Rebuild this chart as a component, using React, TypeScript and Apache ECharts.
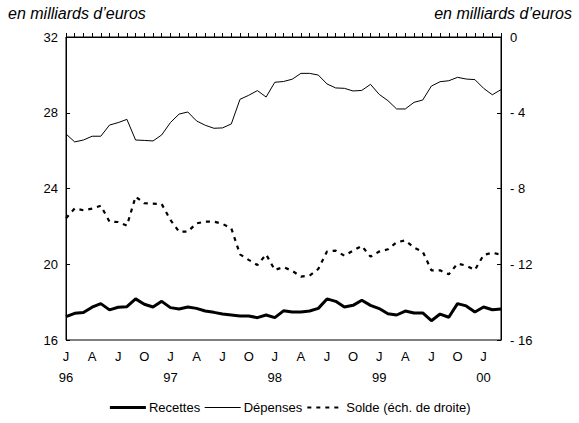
import React, { useEffect, useRef } from "react";
import * as echarts from "echarts";

const categories = [
  "1996-01","1996-02","1996-03","1996-04","1996-05","1996-06","1996-07","1996-08","1996-09","1996-10","1996-11","1996-12",
  "1997-01","1997-02","1997-03","1997-04","1997-05","1997-06","1997-07","1997-08","1997-09","1997-10","1997-11","1997-12",
  "1998-01","1998-02","1998-03","1998-04","1998-05","1998-06","1998-07","1998-08","1998-09","1998-10","1998-11","1998-12",
  "1999-01","1999-02","1999-03","1999-04","1999-05","1999-06","1999-07","1999-08","1999-09","1999-10","1999-11","1999-12",
  "2000-01","2000-02","2000-03",
];

const recettes = [
  17.23, 17.41, 17.45, 17.73, 17.92, 17.59, 17.73, 17.76, 18.17, 17.89, 17.74, 18.04,
  17.71, 17.64, 17.74, 17.67, 17.53, 17.46, 17.37, 17.32, 17.27, 17.27, 17.18, 17.32,
  17.18, 17.54, 17.48, 17.48, 17.53, 17.67, 18.17, 18.04, 17.74, 17.83, 18.1, 17.83,
  17.66, 17.39, 17.32, 17.53, 17.43, 17.43, 17.02, 17.37, 17.2, 17.92, 17.8, 17.48,
  17.74, 17.6, 17.64,
];

const depenses = [
  26.88, 26.46, 26.56, 26.76, 26.76, 27.35, 27.48, 27.65, 26.56, 26.54, 26.51, 26.83,
  27.48, 27.93, 28.04, 27.57, 27.34, 27.18, 27.2, 27.41, 28.71, 28.92, 29.17, 28.83,
  29.61, 29.65, 29.77, 30.08, 30.08, 29.99, 29.52, 29.31, 29.29, 29.15, 29.18, 29.5,
  28.97, 28.64, 28.2, 28.2, 28.55, 28.67, 29.41, 29.64, 29.69, 29.87, 29.78, 29.75,
  29.29, 28.95, 29.22,
];

const solde = [
  -9.57, -9.05, -9.15, -9.06, -8.91, -9.75, -9.77, -9.96, -8.43, -8.78, -8.8, -8.82,
  -9.66, -10.28, -10.28, -9.84, -9.75, -9.75, -9.87, -10.1, -11.48, -11.77, -12.04, -11.48,
  -12.3, -12.15, -12.35, -12.65, -12.6, -12.25, -11.33, -11.28, -11.55, -11.28, -11.03, -11.6,
  -11.33, -11.21, -10.84, -10.74, -11.12, -11.33, -12.32, -12.32, -12.53, -11.97, -12.07, -12.3,
  -11.51, -11.39, -11.5,
];

const leftTicks = { min: 16, max: 32, interval: 4 };
const rightTicks = { min: -16, max: 0, interval: 4 };
const quarterLetters: Record<number, string> = { 1: "J", 4: "A", 7: "J", 10: "O" };
const unitLabel = "en milliards d’euros";
const seriesNames = ["Recettes", "Dépenses", "Solde (éch. de droite)"];

const FONT = "'Liberation Sans', Arial, sans-serif";

export default function App() {
  const ref = useRef<HTMLDivElement>(null);
  useEffect(() => {
    if (!ref.current) return;
    const chart = echarts.init(ref.current, null, { renderer: "svg" });
    const styles = [
      { color: "#000", width: 3, type: "solid" as any },
      { color: "#000", width: 1, type: "solid" as any },
      { color: "#000", width: 2.2, type: [4, 5] as any },
    ];
    chart.setOption({
      animation: false,
      backgroundColor: "#fff",
      textStyle: { fontFamily: FONT, color: "#000" },
      grid: {
        left: 66,
        right: 78,
        top: 37,
        bottom: 83,
        show: true,
        borderColor: "#000",
        borderWidth: 1,
        backgroundColor: "transparent",
      },
      graphic: [
        {
          type: "text",
          left: 8,
          top: 5,
          style: { text: unitLabel, font: `italic 16px ${FONT}`, fill: "#000" },
        },
        {
          type: "text",
          right: 7,
          top: 5,
          style: { text: unitLabel, font: `italic 16px ${FONT}`, fill: "#000" },
        },
      ],
      legend: {
        bottom: 4,
        left: "center",
        itemWidth: 36,
        itemHeight: 10,
        itemGap: 4,
        itemStyle: { opacity: 0 },
        textStyle: { fontSize: 13, color: "#000", fontFamily: FONT, padding: [0, 0, 0, -2] },
        data: seriesNames.map((name, i) => ({ name, lineStyle: styles[i], itemStyle: { opacity: 0 } })),
      },
      xAxis: {
        type: "category",
        data: categories,
        boundaryGap: false,
        axisLine: { lineStyle: { color: "#000", width: 1 } },
        axisTick: { inside: true, length: 4, interval: 0, lineStyle: { color: "#000" } },
        splitLine: { show: false },
        axisLabel: {
          interval: (index: number) => index % 3 === 0,
          margin: 6,
          fontSize: 13,
          lineHeight: 21,
          color: "#000",
          fontFamily: FONT,
          formatter: (value: string) => {
            const [y, m] = value.split("-");
            const mm = parseInt(m, 10);
            const letter = quarterLetters[mm] || "";
            return mm === 1 ? `${letter}\n${y.slice(2)}` : letter;
          },
        },
      },
      yAxis: [
        {
          type: "value",
          position: "left",
          ...leftTicks,
          axisLine: { show: true, lineStyle: { color: "#000", width: 1 } },
          axisTick: { show: true, inside: true, length: 4, lineStyle: { color: "#000" } },
          splitLine: { show: false },
          axisLabel: { margin: 8, fontSize: 13, color: "#000", fontFamily: FONT },
        },
        {
          type: "value",
          position: "right",
          ...rightTicks,
          axisLine: { show: true, lineStyle: { color: "#000", width: 1 } },
          axisTick: { show: true, inside: true, length: 4, lineStyle: { color: "#000" } },
          splitLine: { show: false },
          axisLabel: {
            margin: 9,
            fontSize: 13,
            color: "#000",
            fontFamily: FONT,
            formatter: (v: number) => (v === 0 ? "0" : `- ${Math.abs(v)}`),
          },
        },
      ],
      series: [
        {
          name: seriesNames[0],
          type: "line",
          data: recettes,
          yAxisIndex: 0,
          symbol: "none",
          lineStyle: styles[0],
          itemStyle: { color: "#000", opacity: 0 },
        },
        {
          name: seriesNames[1],
          type: "line",
          data: depenses,
          yAxisIndex: 0,
          symbol: "none",
          lineStyle: styles[1],
          itemStyle: { color: "#000", opacity: 0 },
        },
        {
          name: seriesNames[2],
          type: "line",
          data: solde,
          yAxisIndex: 1,
          symbol: "none",
          lineStyle: styles[2],
          itemStyle: { color: "#000", opacity: 0 },
        },
      ],
    });
    return () => chart.dispose();
  }, []);
  return <div ref={ref} style={{ width: 579, height: 423, position: "absolute", left: 0, top: 0 }} />;
}
